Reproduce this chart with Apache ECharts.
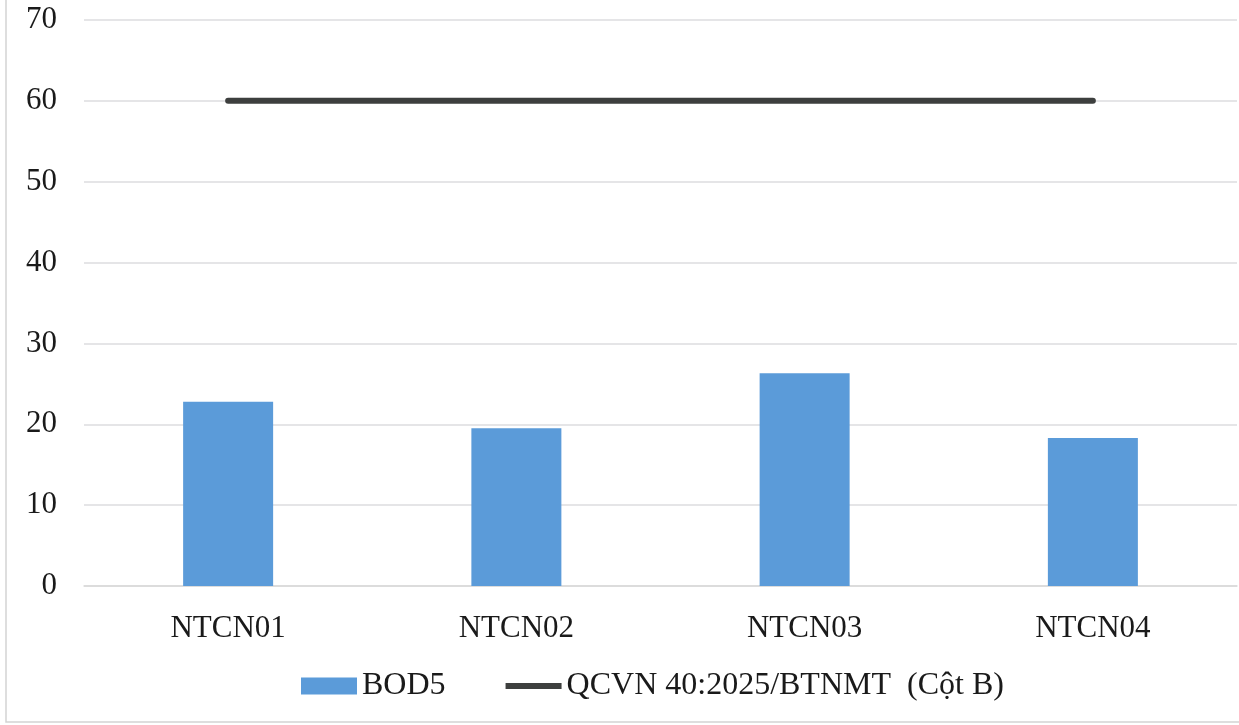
<!DOCTYPE html>
<html>
<head>
<meta charset="utf-8">
<script src="https://cdn.jsdelivr.net/npm/echarts@6/dist/echarts.min.js"></script>
<style>html,body{margin:0;padding:0;background:#fff}#c{width:1239px;height:725px}</style>
</head>
<body>
<div id="c"></div>
<script>
const categories = ['NTCN01', 'NTCN02', 'NTCN03', 'NTCN04'];
const bod5 = [22.8, 19.5, 26.3, 18.3];
const limit = [60, 60, 60, 60];
const barName = 'BOD5';
const lineName = 'QCVN 40:2025/BTNMT  (C\u1ed9t B)';

const font = 'Liberation Serif';
const chart = echarts.init(document.getElementById('c'));
chart.setOption({
  backgroundColor: '#ffffff',
  animation: false,
  textStyle: { fontFamily: font },
  grid: { left: 84, right: 2, top: 20, bottom: 139, containLabel: false },
  legend: {
    left: 296, top: 665,
    itemGap: 60, itemWidth: 56, itemHeight: 17,
    textStyle: { fontFamily: font, fontSize: 32, color: '#1a1a1a' },
    data: [
      { name: barName, icon: 'rect' },
      { name: lineName, icon: 'path://M0,0 L100,0 L100,11 L0,11 Z' }
    ]
  },
  xAxis: {
    type: 'category', data: categories,
    axisLine: { show: true, lineStyle: { color: '#d9d9d9', width: 1.5 } },
    axisTick: { show: false },
    axisLabel: { fontFamily: font, fontSize: 31, color: '#1a1a1a', margin: 27 }
  },
  yAxis: {
    type: 'value', min: 0, max: 70, interval: 10,
    axisLine: { show: false }, axisTick: { show: false },
    splitLine: { lineStyle: { color: '#dcdcdf', width: 1.5 } },
    axisLabel: { fontFamily: font, fontSize: 31, color: '#1a1a1a', margin: 27 }
  },
  series: [
    { name: barName, type: 'bar', data: bod5, barWidth: 90,
      itemStyle: { color: '#5b9bd9' } },
    { name: lineName, type: 'line', data: limit, symbol: 'none', showSymbol: false,
      lineStyle: { color: '#3d3f3e', width: 6, cap: 'round' }, itemStyle: { color: '#3d3f3e' } }
  ],
  graphic: [{
    type: 'rect', silent: true, z: -1,
    shape: { x: 6, y: -5, width: 1250, height: 727 },
    style: { fill: 'none', stroke: '#d3d3d3', lineWidth: 1.5 }
  }]
});
</script>
</body>
</html>
